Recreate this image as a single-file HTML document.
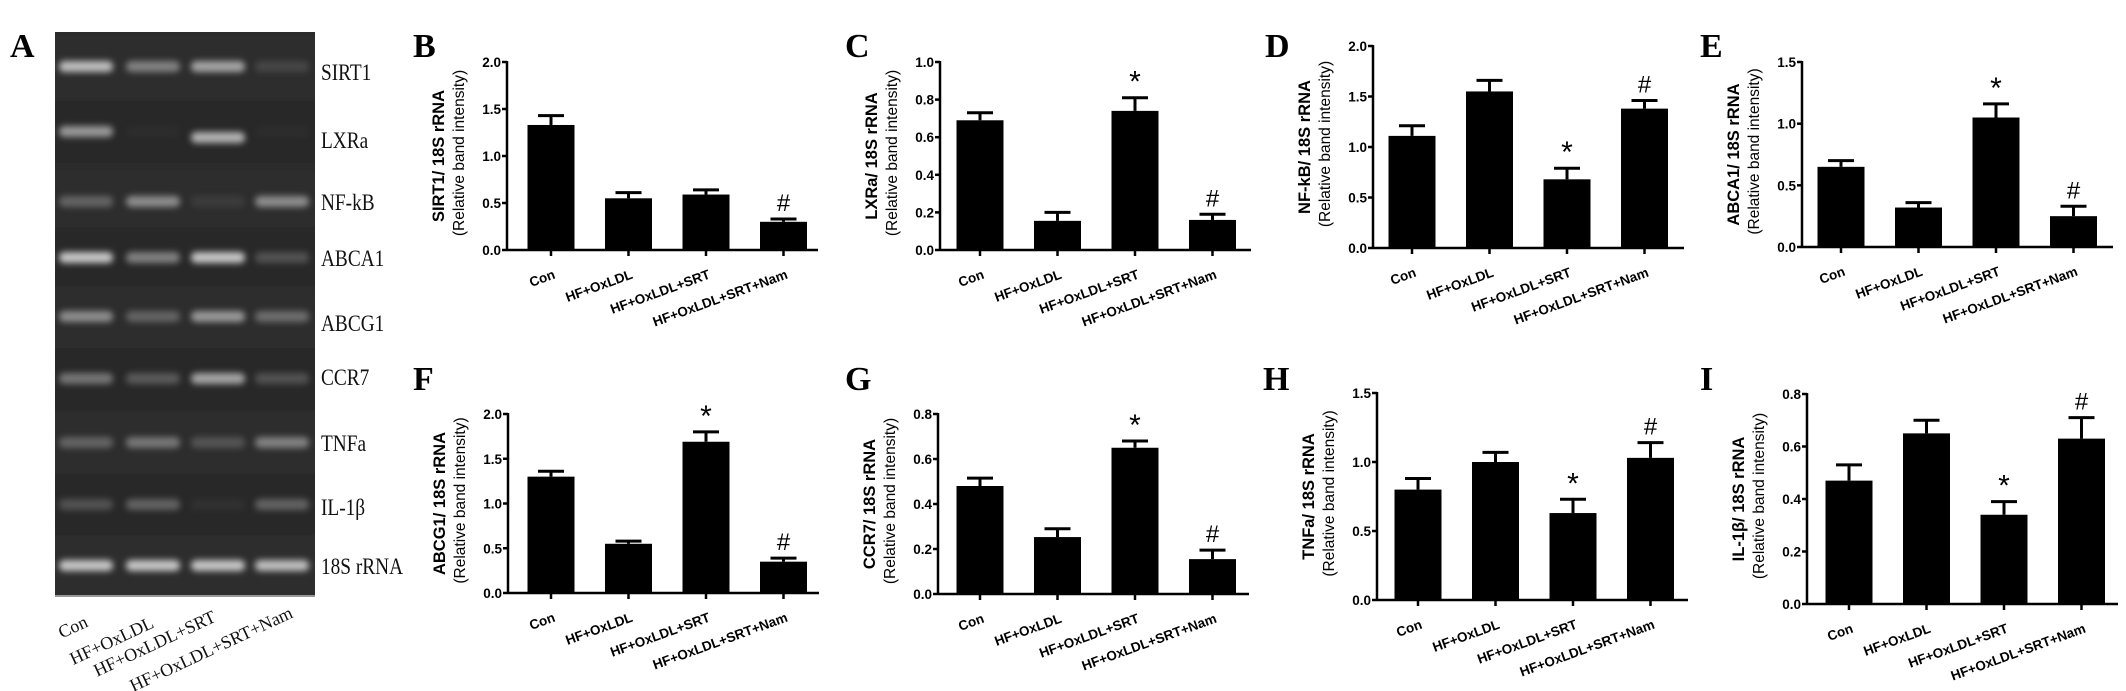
<!DOCTYPE html>
<html><head><meta charset="utf-8">
<style>
html,body{margin:0;padding:0;background:#fff;}
svg{display:block;}
</style></head>
<body>
<svg id="fig" width="2126" height="691" viewBox="0 0 2126 691" xmlns="http://www.w3.org/2000/svg">
<defs>
<filter id="blur" x="-30%" y="-80%" width="160%" height="260%"><feGaussianBlur stdDeviation="3.2"/></filter>
</defs>
<g id="gel"></g>
<g id="charts"></g>
</svg>
<script>
// ---------- data ----------
const categories = ["Con","HF+OxLDL","HF+OxLDL+SRT","HF+OxLDL+SRT+Nam"];
const gelGenes = ["SIRT1","LXRa","NF-kB","ABCA1","ABCG1","CCR7","TNFa","IL-1\u03b2","18S  rRNA"];
const gelIntensity = [
 [0.9,0.65,0.8,0.3],[0.75,0.04,0.85,0.04],[0.5,0.7,0.2,0.7],[0.95,0.65,0.95,0.4],
 [0.7,0.5,0.75,0.55],[0.6,0.45,0.8,0.4],[0.5,0.6,0.4,0.65],[0.4,0.5,0.1,0.5],[0.95,0.95,0.95,0.9]];

const bValues=[1.33,0.55,0.59,0.30], bErrors=[0.10,0.06,0.05,0.03], bTicks=[0,0.5,1,1.5,2];
const cValues=[0.69,0.155,0.74,0.16], cErrors=[0.04,0.045,0.07,0.03], cTicks=[0,0.2,0.4,0.6,0.8,1.0];
const dValues=[1.11,1.55,0.68,1.38], dErrors=[0.10,0.11,0.11,0.08], dTicks=[0,0.5,1,1.5,2];
const eValues=[0.65,0.32,1.05,0.25], eErrors=[0.05,0.04,0.11,0.08], eTicks=[0,0.5,1,1.5];
const fValues=[1.30,0.55,1.69,0.35], fErrors=[0.06,0.03,0.11,0.04], fTicks=[0,0.5,1,1.5,2];
const gValues=[0.48,0.253,0.65,0.155], gErrors=[0.035,0.037,0.03,0.04], gTicks=[0,0.2,0.4,0.6,0.8];
const hValues=[0.80,1.00,0.63,1.03], hErrors=[0.08,0.07,0.10,0.11], hTicks=[0,0.5,1,1.5];
const iValues=[0.47,0.65,0.34,0.63], iErrors=[0.06,0.05,0.05,0.08], iTicks=[0,0.2,0.4,0.6,0.8];
const bMarks=["","","","#"], otherMarks=["","","*","#"];

const panels=[
 {id:"b",letter:"B",lx:413,ly:57,ax:507,top:62,zero:250,x0:551,title:"SIRT1/ 18S rRNA",v:bValues,e:bErrors,t:bTicks,m:bMarks},
 {id:"c",letter:"C",lx:845,ly:57,ax:940,top:62,zero:250,x0:980,title:"LXRa/ 18S rRNA",v:cValues,e:cErrors,t:cTicks,m:otherMarks},
 {id:"d",letter:"D",lx:1265,ly:57,ax:1373,top:46,zero:248,x0:1412,title:"NF-kB/ 18S rRNA",v:dValues,e:dErrors,t:dTicks,m:otherMarks},
 {id:"e",letter:"E",lx:1700,ly:57,ax:1802,top:62,zero:247,x0:1841,title:"ABCA1/ 18S rRNA",v:eValues,e:eErrors,t:eTicks,m:otherMarks},
 {id:"f",letter:"F",lx:413,ly:390,ax:508,top:414,zero:593,x0:551,title:"ABCG1/ 18S rRNA",v:fValues,e:fErrors,t:fTicks,m:otherMarks},
 {id:"g",letter:"G",lx:845,ly:390,ax:938,top:414,zero:594,x0:980,title:"CCR7/ 18S rRNA",v:gValues,e:gErrors,t:gTicks,m:otherMarks},
 {id:"h",letter:"H",lx:1263,ly:390,ax:1377,top:393,zero:600,x0:1418,title:"TNFa/ 18S rRNA",v:hValues,e:hErrors,t:hTicks,m:otherMarks},
 {id:"i",letter:"I",lx:1700,ly:390,ax:1807,top:394,zero:604,x0:1849,title:"IL-1\u03b2/ 18S rRNA",v:iValues,e:iErrors,t:iTicks,m:otherMarks}
];

const NS="http://www.w3.org/2000/svg";
function mk(tag,parent,attrs){const el=document.createElementNS(NS,tag);for(const k in attrs)el.setAttribute(k,attrs[k]);parent.appendChild(el);return el;}

// ---------- gel ----------
const gel=document.getElementById("gel");
let r=mk("rect",gel,{x:55,y:32,width:260,height:563,fill:"#2b2b2b"});


const rowY=[66,131,201,257,316,378,442,504,565];
const labelY=[80,148,210,266,331,385,451,515,574];
const laneX=[86,153,218,282];
gelGenes.forEach((g,ri)=>{
  const shade=mk("rect",gel,{x:55,y:rowY[ri]-30,width:260,height:62,fill:ri%2?"#262626":"#303030",opacity:0.5});
  
  
  laneX.forEach((lx,li)=>{
    const a=gelIntensity[ri][li];
    const c=Math.round(55+a*150);
    const yy=rowY[ri]+(ri===1&&li===2?6:0);
    const band=mk("rect",gel,{x:lx-27,y:yy-5,width:54,height:11,rx:5,fill:`rgb(${c},${c},${c})`,opacity:Math.min(1,0.2+a*0.9),filter:"url(#blur)"});
    
    
  });
  const t=mk("text",gel,{x:321,y:labelY[ri],"font-family":"Liberation Serif, serif","font-size":21,fill:"#111",transform:`translate(321 ${labelY[ri]}) scale(0.92 1.1) translate(-321 ${-labelY[ri]})`});
  t.textContent=g;
  
  
});
const gelLabEnd=[[89,626],[155,627],[217,621],[294,617]];
categories.forEach((c,i)=>{
  const t=mk("text",gel,{x:gelLabEnd[i][0],y:gelLabEnd[i][1],"font-family":"Liberation Serif, serif","font-size":18,"text-anchor":"end",fill:"#111",transform:`rotate(-25 ${gelLabEnd[i][0]} ${gelLabEnd[i][1]})`});
  t.textContent=c;
  
  
});
const la=mk("text",gel,{x:10,y:57,"font-family":"Liberation Serif, serif","font-size":34,"font-weight":"bold",fill:"#000"});
la.textContent="A";



// ---------- bar charts ----------
const charts=document.getElementById("charts");
const SP=77.5, BW=47, AXLEN=311;
panels.forEach(p=>{
  const g=mk("g",charts,{});
  
  
  const maxT=p.t[p.t.length-1];
  const y=v=>p.zero-(v/maxT)*(p.zero-p.top);
  const xc=i=>p.x0+i*SP;
  const L=mk("text",g,{x:p.lx,y:p.ly,"font-family":"Liberation Serif, serif","font-size":34,"font-weight":"bold",fill:"#000"});
  L.textContent=p.letter;
  
  
  p.v.forEach((v,i)=>{
    const b=mk("rect",g,{x:xc(i)-BW/2,y:y(v),width:BW,height:p.zero-y(v),fill:"#000"});
    
    
    const et=y(v+p.e[i]);
    const s=mk("line",g,{x1:xc(i),x2:xc(i),y1:y(v),y2:et,stroke:"#000","stroke-width":3});
    
    
    const cp=mk("line",g,{x1:xc(i)-13,x2:xc(i)+13,y1:et,y2:et,stroke:"#000","stroke-width":3});
    
    
    if(p.m[i]){
      const mt=mk("text",g,{x:xc(i),y:et-(p.m[i]==="*"?6:8),"font-family":"Liberation Sans, sans-serif","font-size":p.m[i]==="*"?30:24,"text-anchor":"middle",fill:"#000"});
      mt.textContent=p.m[i];
      
      
    }
    const tk=mk("line",g,{x1:xc(i),x2:xc(i),y1:p.zero,y2:p.zero+6,stroke:"#000","stroke-width":2.5});
    
    
    const ex=xc(i)+5, ey=p.zero+28;
    const cl=mk("text",g,{x:ex,y:ey,"font-family":"Liberation Sans, sans-serif","font-size":13.5,"font-weight":"bold","text-anchor":"end",fill:"#000",transform:`rotate(-20 ${ex} ${ey})`});
    cl.textContent=categories[i];
    
    
  });
  const ya=mk("line",g,{x1:p.ax,x2:p.ax,y1:p.top-1,y2:p.zero+1,stroke:"#000","stroke-width":2.5});
  
  
  const xa=mk("line",g,{x1:p.ax,x2:p.ax+AXLEN,y1:p.zero,y2:p.zero,stroke:"#000","stroke-width":2.5});
  
  
  p.t.forEach(tv=>{
    const ty=y(tv);
    const tl=mk("line",g,{x1:p.ax-5,x2:p.ax,y1:ty,y2:ty,stroke:"#000","stroke-width":2.5});
    
    
    const tt=mk("text",g,{x:p.ax-6,y:ty+5,"font-family":"Liberation Sans, sans-serif","font-size":13.5,"font-weight":"bold","text-anchor":"end",fill:"#000"});
    tt.textContent=tv.toFixed(1);
    
    
  });
  const my=(p.top+p.zero)/2;
  const t1=mk("text",g,{x:p.ax-63,y:my,"font-family":"Liberation Sans, sans-serif","font-size":16.5,"font-weight":"bold","text-anchor":"middle",fill:"#000",transform:`rotate(-90 ${p.ax-63} ${my})`});
  t1.textContent=p.title;
  
  
  const t2=mk("text",g,{x:p.ax-43,y:my-3,"font-family":"Liberation Sans, sans-serif","font-size":15.5,"text-anchor":"middle",fill:"#000",transform:`rotate(-90 ${p.ax-43} ${my-3})`});
  t2.textContent="(Relative band intensity)";
  
  
});
</script>
</body></html>
